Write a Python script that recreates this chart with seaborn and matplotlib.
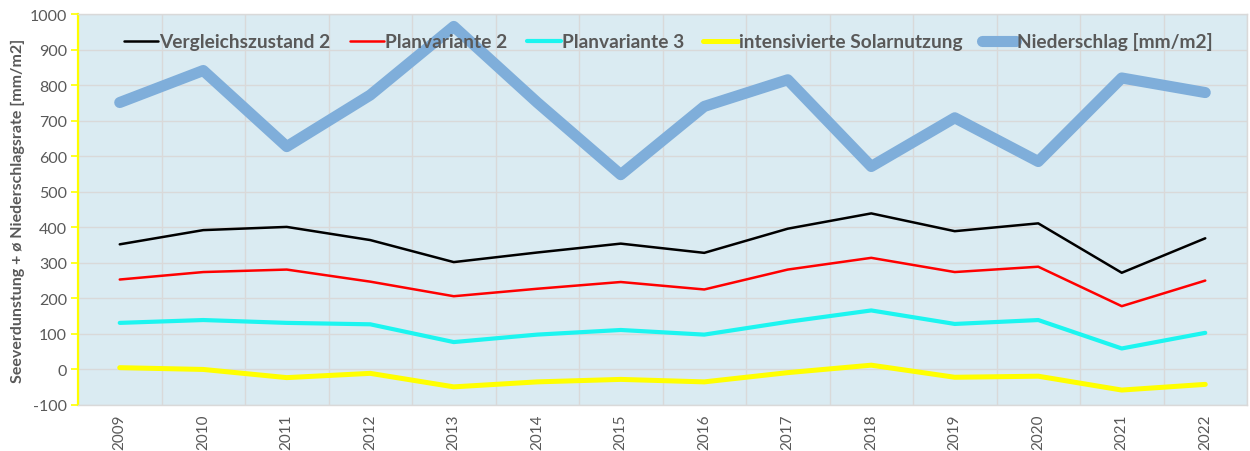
import numpy as np
import pandas as pd
import matplotlib
matplotlib.use("Agg")
import matplotlib.pyplot as plt
import seaborn as sns

years = [2009, 2010, 2011, 2012, 2013, 2014, 2015, 2016, 2017, 2018, 2019, 2020, 2021, 2022]

vergleichszustand_2 = [352, 392, 401, 364, 302, 329, 354, 328, 396, 439, 389, 411, 272, 369]
planvariante_2 = [253, 274, 281, 247, 206, 227, 246, 225, 281, 314, 274, 289, 178, 250]
planvariante_3 = [131, 139, 131, 127, 77, 98, 111, 98, 134, 166, 128, 139, 59, 103]
solarnutzung = [5, 0, -23, -11, -49, -35, -28, -35, -9, 12, -22, -19, -58, -42]
niederschlag = [751, 841, 627, 772, 965, 751, 548, 740, 815, 571, 708, 585, 820, 779]

series_names = [
    "Vergleichszustand 2",
    "Planvariante 2",
    "Planvariante 3",
    "intensivierte Solarnutzung",
    "Niederschlag [mm/m2]",
]
series_values = [vergleichszustand_2, planvariante_2, planvariante_3, solarnutzung, niederschlag]
series_colors = ["#000000", "#FF0000", "#1CF5F0", "#FFFF00", "#7FAEDA"]
series_widths = [1.8, 1.8, 3.0, 3.6, 8.0]

df = pd.concat(
    [pd.DataFrame({"Jahr": years, "Wert": vals, "Reihe": name})
     for name, vals in zip(series_names, series_values)],
    ignore_index=True,
)

sns.set_theme(style="white")
plt.rcParams["font.family"] = ["Lato", "DejaVu Sans"]
plt.rcParams["axes.unicode_minus"] = False

text_color = "#595959"

fig = plt.figure(figsize=(12.5, 4.52), dpi=100)
ax = fig.add_axes([0.0624, 0.1018, 0.9352, 0.865])
ax.set_facecolor("#DAEBF2")

for name, color, lw in zip(series_names, series_colors, series_widths):
    sub = df[df["Reihe"] == name]
    sns.lineplot(data=sub, x="Jahr", y="Wert", ax=ax, color=color, linewidth=lw,
                 label=name, solid_capstyle="round", solid_joinstyle="round")

ax.set_xlim(years[0] - 0.5, years[-1] + 0.5)
ax.set_ylim(-100, 1000)
ax.set_yticks(np.arange(-100, 1001, 100))
ax.set_xticks(years)
ax.set_xticklabels([str(y) for y in years], rotation=90)
ax.set_xticks(np.arange(years[0] - 0.5, years[-1] + 1.0, 1.0), minor=True)

ax.grid(False)
ax.yaxis.grid(True, which="major", color="#D9D9D9", linewidth=1.0)
ax.xaxis.grid(True, which="minor", color="#D9D9D9", linewidth=1.0)
ax.set_axisbelow(True)

ax.set_xlabel("")
ax.set_ylabel("Seeverdunstung + ø Niederschlagsrate [mm/m2]", fontsize=11.5,
              fontweight="bold", color=text_color, labelpad=3)

ax.tick_params(axis="y", which="major", direction="out", length=5, width=1.2,
               color="#FFFF00", labelsize=11.5, labelcolor=text_color, left=True, pad=3)
ax.tick_params(axis="x", which="both", length=0, labelsize=11,
               labelcolor=text_color, pad=6)

for side in ["top", "right", "bottom"]:
    ax.spines[side].set_color("#D9D9D9")
    ax.spines[side].set_linewidth(1.0)
ax.spines["left"].set_color("#FFFF00")
ax.spines["left"].set_linewidth(1.6)

leg = ax.legend(loc="upper center", bbox_to_anchor=(0.505, 0.997), ncol=5,
                frameon=False, fontsize=13.8, handlelength=1.8,
                handletextpad=0.05, columnspacing=1.0)
for t in leg.get_texts():
    t.set_color(text_color)
    t.set_fontweight("bold")
leg.set_zorder(10)

fig.savefig("out.png", dpi=100, facecolor="white")
